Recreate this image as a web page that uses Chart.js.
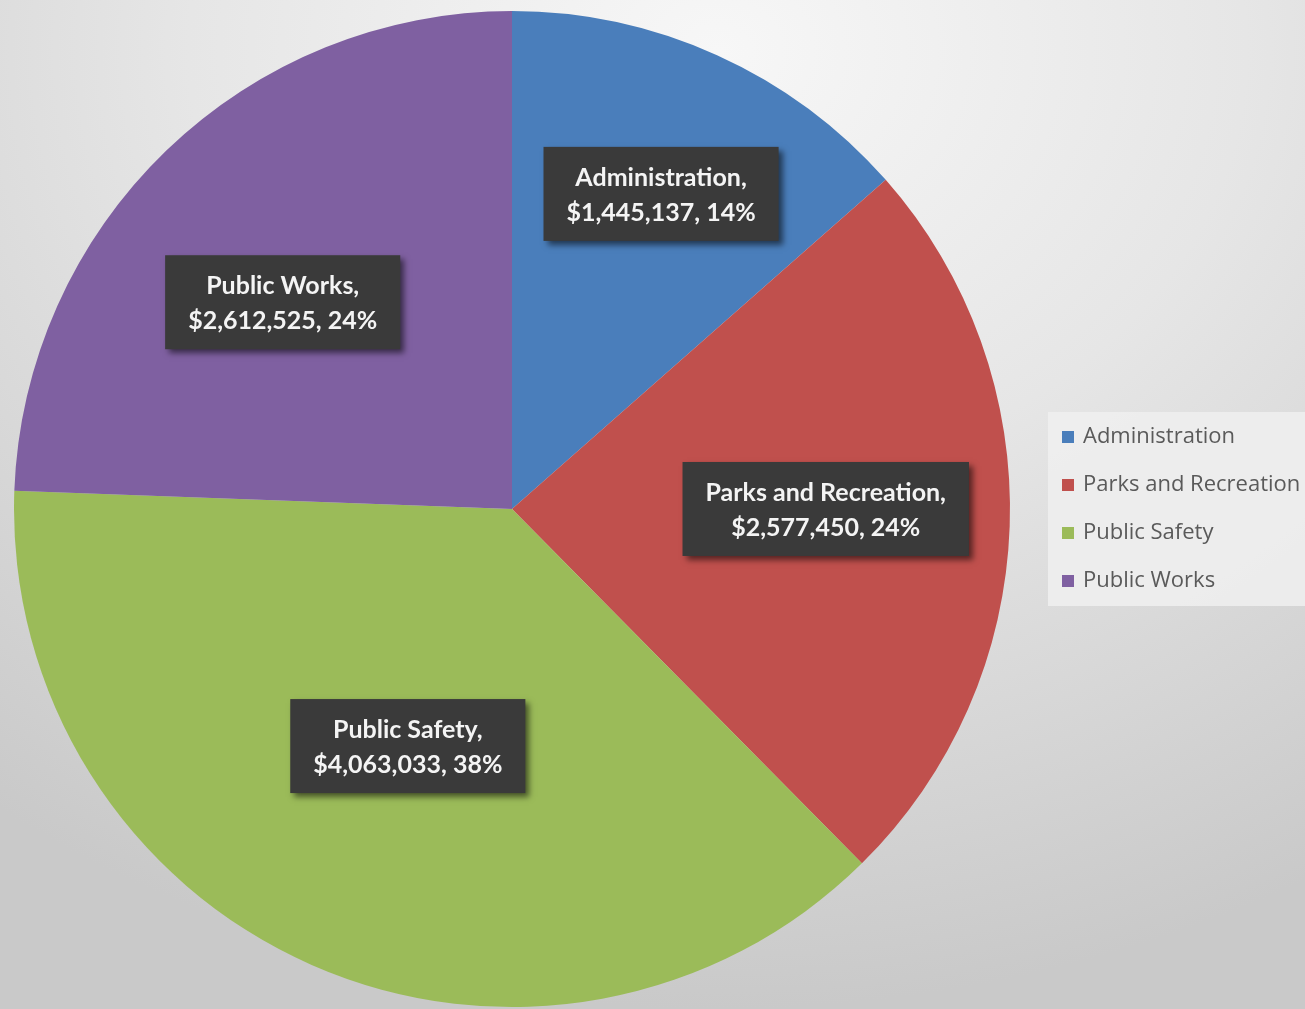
<!DOCTYPE html>
<html>
<head>
<meta charset="utf-8">
<title>Budget by Department</title>
<script src="https://cdn.jsdelivr.net/npm/chart.js@4.4.1/dist/chart.umd.min.js"></script>
<style>
  html, body {
    margin: 0;
    padding: 0;
    width: 1305px;
    height: 1009px;
    overflow: hidden;
  }
  body {
    background: radial-gradient(ellipse 90% 95% at 55% 5%, #f7f7f7 0%, #e6e6e6 45%, #c9c9c9 100%);
  }
  #wrap {
    position: relative;
    width: 1305px;
    height: 1009px;
  }
</style>
</head>
<body>
<div id="wrap">
  <canvas id="budgetChart" width="1305" height="1009"></canvas>
</div>
<script>
const departments = ['Administration', 'Parks and Recreation', 'Public Safety', 'Public Works'];
const amounts = [1445137, 2577450, 4063033, 2612525];
const sliceColors = ['#4a7ebb', '#c0504d', '#9bbb59', '#7f60a1'];

// where each value box sits: fraction of radius, and a small turn (degrees) off the slice middle
const labelRadius = [0.70, 0.63, 0.52, 0.62];
const labelTurn = [1, -2, 0, -4];

const money = v => '$' + v.toLocaleString('en-US');

const total = amounts.reduce((a, b) => a + b, 0);

// dark value boxes over each slice
const valueBoxes = {
  id: 'valueBoxes',
  afterDatasetsDraw(chart) {
    const ctx = chart.ctx;
    const meta = chart.getDatasetMeta(0);
    ctx.save();
    ctx.font = 'bold 25px Lato, "Open Sans", sans-serif';
    ctx.textAlign = 'center';
    ctx.textBaseline = 'middle';

    meta.data.forEach((arc, i) => {
      const mid = (arc.startAngle + arc.endAngle) / 2 + labelTurn[i] * Math.PI / 180;
      const r = arc.outerRadius * labelRadius[i];
      const cx = arc.x + Math.cos(mid) * r;
      const cy = arc.y + Math.sin(mid) * r;

      const pct = Math.round(amounts[i] / total * 100) + '%';
      const line1 = departments[i] + ',';
      const line2 = money(amounts[i]) + ', ' + pct;
      const w = Math.max(ctx.measureText(line1).width, ctx.measureText(line2).width) + 46;
      const h = 94;

      ctx.save();
      ctx.shadowColor = 'rgba(0,0,0,0.55)';
      ctx.shadowBlur = 6;
      ctx.shadowOffsetX = 4;
      ctx.shadowOffsetY = 4;
      ctx.fillStyle = '#3a3a3a';
      ctx.fillRect(cx - w / 2, cy - h / 2, w, h);
      ctx.restore();

      ctx.fillStyle = '#f4f4f4';
      ctx.fillText(line1, cx, cy - 16);
      ctx.fillText(line2, cx, cy + 19);
    });
    ctx.restore();
  }
};

// legend panel on the right
const sideLegend = {
  id: 'sideLegend',
  afterDraw(chart) {
    const ctx = chart.ctx;
    ctx.save();
    ctx.fillStyle = 'rgba(238,238,238,0.9)';
    ctx.fillRect(1048, 412, 270, 194);

    ctx.font = '22px "Open Sans", sans-serif';
    ctx.textBaseline = 'middle';
    departments.forEach((name, i) => {
      const y = 437 + i * 48;
      ctx.fillStyle = sliceColors[i];
      ctx.fillRect(1062, y - 6, 12, 12);
      ctx.fillStyle = '#5a5a5a';
      ctx.fillText(name, 1083, y);
    });
    ctx.restore();
  }
};

new Chart(document.getElementById('budgetChart'), {
  type: 'pie',
  data: {
    labels: departments,
    datasets: [{
      data: amounts,
      backgroundColor: sliceColors,
      borderWidth: 0
    }]
  },
  options: {
    responsive: false,
    animation: false,
    layout: {
      padding: { left: 14, right: 295, top: 11, bottom: 2 }
    },
    plugins: {
      legend: { display: false },
      tooltip: { enabled: false }
    }
  },
  plugins: [valueBoxes, sideLegend]
});
</script>
</body>
</html>
